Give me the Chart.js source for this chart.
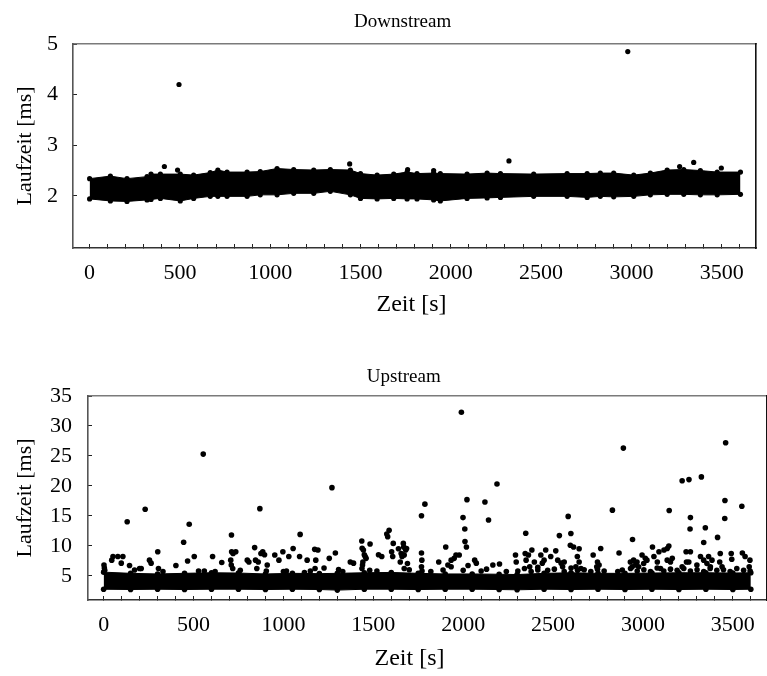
<!DOCTYPE html>
<html>
<head>
<meta charset="utf-8">
<script src="https://cdn.jsdelivr.net/npm/chart.js@4"></script>
<style>
  html, body { margin: 0; padding: 0; background: #fff; overflow: hidden; width: 767px; height: 676px; }
  #down { position: absolute; left: 0; top: 0; }
  #up { position: absolute; left: 0; top: 340px; }
</style>
</head>
<body>
<canvas id="down" width="767" height="319"></canvas>
<canvas id="up" width="771" height="333"></canvas>
<script>
// tick labels
const xTickLabels = [0, 500, 1000, 1500, 2000, 2500, 3000, 3500];
const downYTicks = [2, 3, 4, 5];
const upYTicks = [5, 10, 15, 20, 25, 30, 35];

// Downstream: dense band (upper / lower edge of the point cloud) + single outliers
const downBandTime = [0, 115, 207, 318, 340, 392, 502, 576, 668, 710, 761, 872, 945, 1038, 1130, 1241, 1333, 1444, 1500, 1592,
  1684, 1758, 1813, 1905, 1942, 2090, 2201, 2275, 2459, 2644, 2755, 2828, 2902, 3013, 3105, 3198, 3290, 3382, 3475, 3604];
const downBandHigh = [2.34, 2.39, 2.34, 2.38, 2.43, 2.43, 2.43, 2.41, 2.46, 2.51, 2.47, 2.47, 2.48, 2.54, 2.52, 2.51, 2.52, 2.51, 2.44, 2.41,
  2.43, 2.47, 2.44, 2.45, 2.44, 2.43, 2.45, 2.44, 2.43, 2.44, 2.44, 2.45, 2.45, 2.41, 2.45, 2.51, 2.52, 2.50, 2.47, 2.47];
const downBandLow = [1.94, 1.90, 1.89, 1.92, 1.93, 1.95, 1.90, 1.95, 1.99, 1.99, 1.99, 1.99, 2.02, 2.02, 2.05, 2.05, 2.09, 2.02, 1.95, 1.94,
  1.95, 1.94, 1.94, 1.92, 1.90, 1.95, 1.96, 1.97, 1.99, 1.99, 1.97, 1.99, 1.98, 1.99, 2.02, 2.03, 2.03, 2.02, 2.02, 2.03];
const downTime = [414, 487, 495, 1440, 1761, 1905, 2322, 2980, 3267, 3345, 3498];
const downDelay = [2.58, 2.51, 4.2, 2.63, 2.52, 2.5, 2.69, 4.85, 2.58, 2.66, 2.55];

// Upstream
const upBandTime = [0, 150, 300, 450, 600, 750, 900, 1050, 1200, 1300, 1450, 1600, 1750, 1900, 2050, 2200, 2300, 2450, 2600, 2750,
  2900, 3050, 3200, 3350, 3500, 3600];
const upBandHigh = [5.6, 5.4, 5.3, 5.4, 5.5, 5.45, 5.3, 5.4, 5.35, 5.4, 5.5, 5.55, 5.4, 5.3, 5.3, 5.25, 5.2, 5.4, 5.5, 5.4,
  5.4, 5.45, 5.5, 5.5, 5.45, 5.5];
const upBandLow = [2.75, 2.7, 2.75, 2.7, 2.75, 2.75, 2.7, 2.75, 2.7, 2.6, 2.75, 2.75, 2.7, 2.75, 2.75, 2.7, 2.65, 2.75, 2.7, 2.75,
  2.7, 2.75, 2.7, 2.75, 2.7, 2.75];
const upTime = [2, 4, 6, 45, 52, 79, 107, 98, 131, 144, 172, 200, 209, 231, 255, 264, 301, 305, 402, 445,
  467, 476, 504, 528, 554, 606, 657, 711, 712, 720, 735, 707, 710, 718, 799, 808, 840, 869, 845, 860,
  852, 875, 885, 895, 910, 952, 975, 997, 1017, 1030, 1054, 1093, 1090, 1117, 1132, 1174, 1192, 1180, 1176, 1226,
  1255, 1270, 1289, 1307, 1372, 1390, 1436, 1438, 1445, 1450, 1455, 1460, 1442, 1440, 1437, 1482, 1529, 1547, 1575, 1588,
  1580, 1602, 1611, 1608, 1640, 1655, 1663, 1650, 1667, 1669, 1680, 1685, 1672, 1660, 1690, 1672, 1768, 1787, 1768, 1770,
  1768, 1771, 1864, 1903, 1888, 1915, 1933, 1933, 1960, 1978, 1950, 1990, 2021, 1999, 2009, 2010, 2018, 2027, 2064, 2073,
  2121, 2141, 2188, 2165, 2202, 2130, 2291, 2295, 2348, 2345, 2363, 2382, 2350, 2370, 2396, 2415, 2432, 2450, 2459, 2440,
  2487, 2515, 2535, 2526, 2545, 2553, 2562, 2584, 2599, 2596, 2614, 2645, 2635, 2645, 2627, 2655, 2723, 2747, 2756, 2743,
  2765, 2830, 2867, 2891, 2885, 2942, 2930, 2948, 2967, 2958, 2976, 2940, 2995, 3013, 3004, 3022, 3053, 3061, 3080, 3098,
  3089, 3117, 3135, 3144, 3146, 3135, 3153, 3163, 3218, 3256, 3264, 3262, 3240, 3264, 3242, 3218, 3255, 3325, 3347, 3338,
  3320, 3338, 3365, 3384, 3375, 3356, 3300, 3415, 3430, 3427, 3440, 3460, 3456, 3455, 3491, 3494, 3550, 3553, 3568, 3595,
  3591,
  // points just above the dense band
  330, 560, 620, 760, 905, 1000, 1150, 1330, 1480, 1520, 1700, 1820, 2000, 2100, 2240,
  2304, 2341, 2378, 2415, 2470, 2507, 2562, 2600, 2636, 2673, 2710, 2747, 2784, 2860, 2931, 2968, 3005, 3042, 3079, 3116,
  3153, 3190, 3227, 3264, 3301, 3338, 3374, 3411, 3448, 3485, 3522, 3560, 3596];
const upDelay = [6.8, 6.3, 5.9, 7.6, 8.2, 8.2, 8.2, 7.1, 14.0, 6.7, 5.95, 6.2, 6.2, 16.1, 7.6, 7.1, 9.0, 6.2, 6.7, 10.6,
  7.45, 13.6, 8.2, 5.8, 25.3, 8.2, 7.2, 11.8, 9.0, 8.7, 9.0, 7.6, 6.8, 6.2, 7.6, 7.3, 9.7, 16.2, 7.6, 7.3,
  6.2, 8.7, 9.0, 8.5, 6.8, 8.45, 7.6, 9.0, 5.8, 8.2, 9.55, 11.9, 8.2, 5.55, 7.6, 9.4, 9.3, 7.6, 6.2, 6.3,
  7.9, 19.7, 8.8, 6.05, 7.3, 7.1, 10.8, 9.6, 9.3, 8.5, 8.2, 7.9, 7.3, 6.8, 6.2, 10.3, 8.5, 8.2, 11.95, 12.6,
  11.5, 9.0, 10.4, 8.2, 9.5, 8.7, 8.5, 7.3, 10.4, 9.8, 9.3, 9.55, 8.45, 8.2, 7.05, 6.2, 15.0, 16.95, 8.8, 7.6,
  6.5, 5.8, 7.3, 9.8, 5.95, 6.8, 6.5, 7.6, 8.45, 8.45, 7.9, 32.3, 17.7, 14.7, 12.8, 10.7, 9.8, 6.7, 7.6, 7.1,
  17.3, 14.3, 20.3, 6.8, 6.95, 6.1, 8.45, 7.3, 12.1, 8.7, 8.45, 9.3, 7.6, 6.5, 7.3, 5.95, 8.45, 7.6, 9.3, 7.1,
  8.2, 9.15, 11.7, 7.6, 7.1, 6.5, 7.3, 14.9, 12.05, 10.1, 9.8, 9.5, 8.2, 7.3, 6.5, 6.2, 8.45, 7.3, 6.8, 6.5,
  9.55, 15.95, 8.8, 26.3, 5.95, 11.05, 7.3, 7.6, 7.3, 6.8, 6.5, 6.5, 8.45, 7.9, 7.05, 7.6, 9.8, 8.2, 7.3, 6.2,
  9.0, 9.3, 9.55, 9.95, 15.9, 7.6, 7.3, 7.9, 20.85, 21.05, 14.7, 12.8, 9.0, 9.0, 7.3, 6.5, 7.3, 21.5, 13.0, 10.55,
  8.2, 7.6, 8.2, 7.6, 6.5, 7.05, 6.8, 11.4, 8.7, 7.3, 6.5, 27.2, 17.55, 14.55, 8.7, 7.75, 16.6, 8.8, 8.2, 7.6,
  6.5,
  5.7, 5.8, 5.7, 5.9, 5.8, 5.7, 5.8, 5.7, 5.9, 5.8, 6.0, 5.7, 5.9, 5.8, 5.7,
  5.8, 6.2, 5.7, 6.4, 5.9, 6.1, 5.7, 6.3, 5.9, 6.0, 5.7, 6.1, 5.8, 5.7, 6.2, 5.8, 6.0, 5.7, 6.3, 5.8,
  6.1, 5.9, 6.2, 5.8, 6.0, 5.7, 6.2, 5.9, 6.0, 5.7, 6.2, 5.9, 5.8];

const FONT = "'Liberation Serif', 'Times New Roman', serif";
const xMinorStep = 100;

function pts(xs, ys) {
  return xs.map((x, i) => ({ x: x, y: ys[i] }));
}

function makeChart(id, cfg) {
  const ctx = document.getElementById(id).getContext('2d');
  const r = cfg.radius;
  return new Chart(ctx, {
    type: 'line',
    data: {
      datasets: [
        { // upper edge of the dense cloud, filled down to the lower edge
          data: pts(cfg.bandTime, cfg.bandHigh),
          borderColor: '#000', borderWidth: 1, backgroundColor: '#000',
          pointRadius: r, pointBackgroundColor: '#000', pointBorderWidth: 0,
          fill: '+1', tension: 0
        },
        {
          data: pts(cfg.bandTime, cfg.bandLow),
          borderColor: '#000', borderWidth: 1, backgroundColor: '#000',
          pointRadius: r, pointBackgroundColor: '#000', pointBorderWidth: 0,
          fill: false, tension: 0
        },
        {
          data: pts(cfg.time, cfg.delay),
          showLine: false,
          pointRadius: r, pointBackgroundColor: '#000', pointBorderWidth: 0
        }
      ]
    },
    options: {
      responsive: false,
      animation: false,
      events: [],
      layout: { padding: { left: 0, right: cfg.padRight, top: 0, bottom: 0 } },
      plugins: { legend: { display: false }, tooltip: { enabled: false }, title: { display: false } },
      scales: {
        x: {
          type: 'linear', position: 'bottom', min: cfg.xMin, max: cfg.xMax,
          afterBuildTicks: s => {
            const t = [];
            for (let v = 0; v <= 3600; v += xMinorStep) t.push({ value: v });
            s.ticks = t;
          },
          afterFit: s => { s.height = cfg.xAxisHeight; },
          ticks: {
            autoSkip: false, maxRotation: 0, padding: 16.5, color: '#000',
            font: { family: FONT, size: 22 },
            callback: v => xTickLabels.includes(v) ? String(v) : ''
          },
          grid: { display: true, drawOnChartArea: false, drawTicks: true, tickLength: -4, color: '#222', tickWidth: 1 },
          border: { display: true, color: '#333', width: 1.6 },
          // trailing spaces shift the centred caption a little to the left, as in the original
          title: { display: true, text: 'Zeit [s]' + ' '.repeat(cfg.xTitleShift), color: '#000', font: { family: FONT, size: 24 }, padding: { top: 0, bottom: 0 } }
        },
        x2: {
          type: 'linear', position: 'top', min: cfg.xMin, max: cfg.xMax, display: true,
          afterFit: s => { s.height = cfg.topHeight; },
          ticks: { display: false },
          grid: { display: false, drawTicks: false },
          border: { display: true, color: '#7a7a7a', width: 1.6 },
          title: { display: true, text: cfg.title + ' '.repeat(cfg.titleShift), color: '#000', font: { family: FONT, size: 19 }, padding: { top: cfg.titlePadTop, bottom: 0 } }
        },
        y: {
          type: 'linear', position: 'left', min: cfg.yMin, max: cfg.yMax,
          afterBuildTicks: s => { s.ticks = cfg.yTicks.map(v => ({ value: v })); },
          afterFit: s => { s.width = cfg.yAxisWidth; },
          ticks: { padding: cfg.yPad, color: '#000', font: { family: FONT, size: 22 } },
          grid: { display: true, drawOnChartArea: false, drawTicks: true, tickLength: -4, color: '#222', tickWidth: 1 },
          border: { display: true, color: '#555', width: 1.6 },
          title: { display: true, text: 'Laufzeit [ms]', color: '#000', font: { family: FONT, size: 22 }, padding: { top: 12, bottom: 0 } }
        },
        y2: {
          type: 'linear', position: 'right', min: cfg.yMin, max: cfg.yMax, display: true,
          afterFit: s => { s.width = 0; },
          ticks: { display: false },
          grid: { display: false, drawTicks: false },
          border: { display: true, color: '#111', width: 1.6 }
        }
      }
    }
  });
}

makeChart('down', {
  title: 'Downstream', titleShift: 5, titlePadTop: 10.5, topHeight: 44, xAxisHeight: 71, xTitleShift: 1,
  xMin: -92, xMax: 3690, padRight: 11, yAxisWidth: 73, yPad: 19,
  yMin: 0.97, yMax: 5, yTicks: downYTicks, radius: 2.6,
  bandTime: downBandTime, bandHigh: downBandHigh, bandLow: downBandLow,
  time: downTime, delay: downDelay
});

makeChart('up', {
  title: 'Upstream', titleShift: 10, titlePadTop: 26, topHeight: 56, xAxisHeight: 73, xTitleShift: 6,
  xMin: -87, xMax: 3690, padRight: 0, yAxisWidth: 88, yPad: 20,
  yMin: 0.95, yMax: 35, yTicks: upYTicks, radius: 2.8,
  bandTime: upBandTime, bandHigh: upBandHigh, bandLow: upBandLow,
  time: upTime, delay: upDelay
});
</script>
</body>
</html>
